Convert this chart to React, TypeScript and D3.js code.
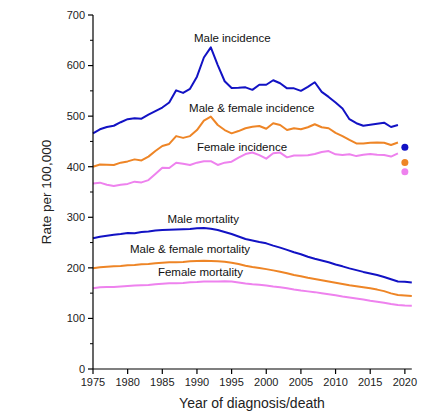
import * as d3 from 'd3'

const incYears = d3.range(1975, 2020)
const mortYears = d3.range(1975, 2022)

const maleIncidence = [
  466, 474, 478.5, 481, 488, 494, 496, 495, 503, 510, 517, 527, 551, 546, 554, 578, 616, 636, 601, 569,
  555.5, 556, 557, 552, 562, 562, 571, 565, 555, 555, 550, 558, 567, 548, 538, 527, 515, 494, 486, 481,
  483, 485, 487, 478.5, 482.5,
]
const bothIncidence = [
  400, 404.5, 404, 403.5, 408, 410.5, 414.5, 412.5, 420, 431, 441, 445, 460.5, 457, 460.5, 472.5, 491, 499,
  482.5, 472.5, 466, 470.5, 476, 479, 480.5, 475, 486, 482.5, 472.5, 476, 474, 478, 484, 478, 476, 467,
  460.5, 453, 446, 446, 447.5, 448, 447.5, 443, 448,
]
const femaleIncidence = [
  367, 368.5, 364.5, 362, 364.5, 366, 370.5, 369, 373.5, 385.5, 398, 397.5, 408, 406, 403.5, 408, 411, 411,
  403.5, 408, 410, 418, 425, 428, 423, 416, 426.5, 428, 418.5, 422, 422, 422.5, 425, 429, 431, 424.5, 423,
  424.5, 421, 423.5, 425, 423.5, 423, 420, 426.5,
]

const maleMortality = [
  258.5, 261.5, 263.5, 265.5, 267, 269, 268.5, 271, 272, 274, 275, 275.5, 276, 276.5, 277, 278.5, 279,
  277.5, 275, 271, 267, 262, 257, 254, 251, 248.5, 244, 240, 235.5, 231, 227, 222, 218, 214.5, 211, 206.5,
  203, 199, 195.5, 192, 189, 186, 182, 177.5, 173, 172.5, 171,
]
const bothMortality = [
  199, 201, 202, 203, 203.5, 205, 205.5, 207, 207.5, 209, 210, 211, 211, 211.5, 213, 213.5, 214, 213.5, 213,
  212, 210, 207.5, 204, 201.5, 199.5, 197.5, 195, 192.5, 189.5, 186, 183.5, 180.5, 178, 175.5, 173, 170.5,
  168, 165.5, 163.5, 161.5, 159.5, 157, 154, 149.5, 146.5, 145.5, 144.5,
]
const femaleMortality = [
  159.5, 161.5, 162, 162, 163, 164, 165, 165.5, 166, 167.5, 168.5, 169.5, 169.5, 170, 171.5, 172, 173, 173,
  173, 173.5, 173, 171, 169, 167.5, 166.5, 165, 163, 161.5, 159.5, 157, 155, 153.5, 152, 150, 148, 146,
  143.5, 141.5, 139.5, 137.5, 135, 133, 131, 128.5, 126.5, 125.5, 125,
]

// 2020 incidence shown as separate points
const dotYear = 2020
const dots2020 = [438.5, 408.5, 390]

const colors = { male: '#1212C4', both: '#EE8526', female: '#EE82EE' }

const yTicks = [0, 100, 200, 300, 400, 500, 600, 700]
const yMinor = [50, 150, 250, 350, 450, 550, 650]
const xTicks = [1975, 1980, 1985, 1990, 1995, 2000, 2005, 2010, 2015, 2020]

const labels = [
  { text: 'Male incidence', year: 1995.1, value: 647 },
  { text: 'Male & female incidence', year: 1997.9, value: 508 },
  { text: 'Female incidence', year: 1996.5, value: 431 },
  { text: 'Male mortality', year: 1990.9, value: 288 },
  { text: 'Male & female mortality', year: 1989, value: 229 },
  { text: 'Female mortality', year: 1990.5, value: 184 },
]

export default function App() {
  const width = 432
  const height = 419
  const margin = { top: 15, right: 20, bottom: 50, left: 93 }

  const x = d3.scaleLinear().domain([1975, 2021]).range([margin.left, 411.8])
  const y = d3.scaleLinear().domain([0, 700]).range([height - margin.bottom, margin.top])

  const line = d3.line<[number, number]>()
    .x(d => x(d[0]))
    .y(d => y(d[1]))

  const incSeries = [
    { values: maleIncidence, color: colors.male },
    { values: bothIncidence, color: colors.both },
    { values: femaleIncidence, color: colors.female },
  ]
  const mortSeries = [
    { values: maleMortality, color: colors.male },
    { values: bothMortality, color: colors.both },
    { values: femaleMortality, color: colors.female },
  ]
  const dotColors = [colors.male, colors.both, colors.female]

  const font = 'Arial, "Liberation Sans", sans-serif'
  const y0 = y(0)

  return (
    <svg
      width={width}
      height={height}
      style={{ position: 'absolute', left: 0, top: 0, background: '#fff' }}
      fontFamily={font}
    >
      {incSeries.map((s, i) => (
        <path
          key={'inc' + i}
          d={line(incYears.map((yr, j) => [yr, s.values[j]]))!}
          fill="none"
          stroke={s.color}
          strokeWidth={2}
          strokeLinejoin="round"
        />
      ))}
      {mortSeries.map((s, i) => (
        <path
          key={'mort' + i}
          d={line(mortYears.map((yr, j) => [yr, s.values[j]]))!}
          fill="none"
          stroke={s.color}
          strokeWidth={2}
          strokeLinejoin="round"
        />
      ))}
      {dots2020.map((v, i) => (
        <circle key={'dot' + i} cx={x(dotYear)} cy={y(v)} r={3.5} fill={dotColors[i]} />
      ))}

      {labels.map((l, i) => (
        <text key={'lab' + i} x={x(l.year)} y={y(l.value)} fontSize={11.5} textAnchor="middle" fill="#111">
          {l.text}
        </text>
      ))}

      {/* y axis */}
      <line x1={margin.left} x2={margin.left} y1={y(700)} y2={y0} stroke="#000" strokeWidth={1.2} />
      {yTicks.map(t => (
        <g key={'yt' + t}>
          <line x1={margin.left - 5} x2={margin.left} y1={y(t)} y2={y(t)} stroke="#000" strokeWidth={1.2} />
          <text x={margin.left - 8} y={y(t)} dy="0.35em" fontSize={11} textAnchor="end" fill="#222">
            {t}
          </text>
        </g>
      ))}
      {yMinor.map(t => (
        <line key={'ym' + t} x1={margin.left - 3} x2={margin.left} y1={y(t)} y2={y(t)} stroke="#000" strokeWidth={1} />
      ))}

      {/* x axis */}
      <line x1={margin.left} x2={x(2021)} y1={y0} y2={y0} stroke="#000" strokeWidth={1.2} />
      {xTicks.map(t => (
        <g key={'xt' + t}>
          <line x1={x(t)} x2={x(t)} y1={y0} y2={y0 + 5} stroke="#000" strokeWidth={1.2} />
          <text x={x(t)} y={y0 + 17} fontSize={11} textAnchor="middle" fill="#222">
            {t}
          </text>
        </g>
      ))}

      <text x={252} y={408} fontSize={14} textAnchor="middle" fill="#222">
        Year of diagnosis/death
      </text>
      <text
        transform={`translate(51,${y(350)}) rotate(-90)`}
        fontSize={13.5}
        textAnchor="middle"
        fill="#222"
      >
        Rate per 100,000
      </text>
    </svg>
  )
}
